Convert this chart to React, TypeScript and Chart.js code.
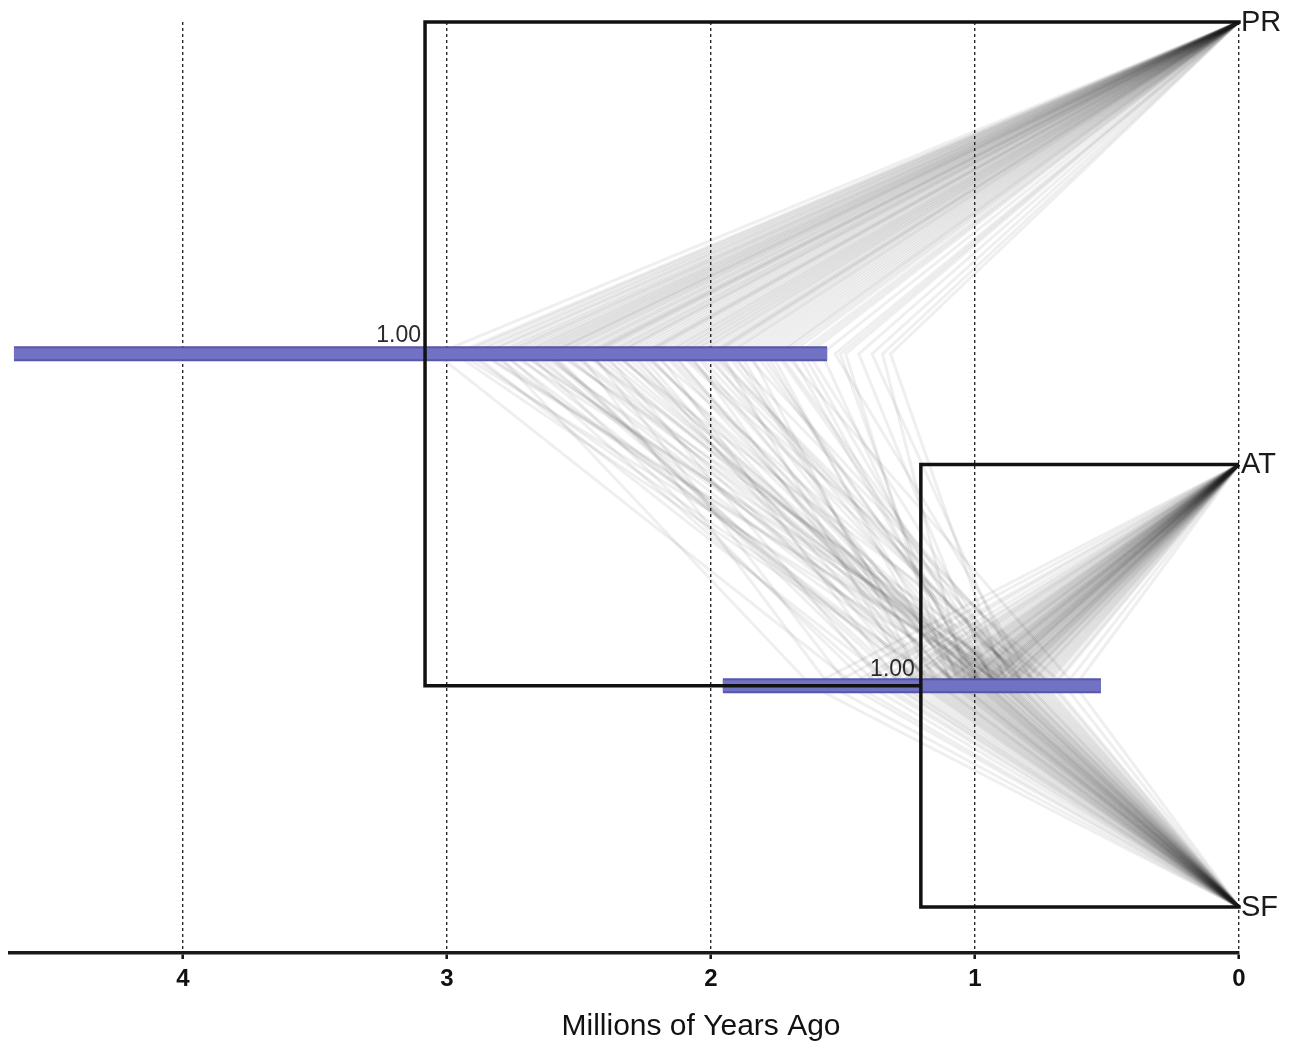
import React, { useEffect, useRef } from "react";
import { Chart, registerables } from "chart.js";

Chart.register(...registerables);

// ---- data ----
const taxa = ["PR", "AT", "SF"];
const taxonY = [2, 1, 0];
const xTicks = [0, 1, 2, 3, 4];
const axisMaxAge = 4.655;

const rootAge = 3.083;
const rootY = 1.25;
const cladeAge = 1.205;
const cladeY = 0.5;

const rootHPD = [4.64, 1.56];
const cladeHPD = [1.955, 0.523];
const rootSupport = "1.00";
const cladeSupport = "1.00";

// posterior sample of node ages (root, AT+SF clade), read from the tree cloud
const sampledRootAges = [
  3.04, 2.97, 2.95, 2.9, 2.86, 2.83, 2.81, 2.76, 2.74, 2.71, 2.69, 2.65, 2.63, 2.61, 2.58,
  2.55, 2.53, 2.5, 2.47, 2.46, 2.42, 2.4, 2.37, 2.35, 2.31, 2.29, 2.26, 2.22, 2.2, 2.17,
  2.14, 2.11, 2.08, 2.05, 2.01, 1.98, 1.94, 1.91, 1.87, 1.83, 1.79, 1.75, 1.72, 1.67, 1.63,
  1.58, 1.53, 1.49, 1.44, 1.39, 1.35, 1.32, 2.66, 2.44, 2.24, 2.03, 1.89, 2.78, 2.52, 1.7,
  2.92, 2.57, 2.33, 2.12, 1.96, 1.81, 2.68, 2.48, 2.27, 2.09, 1.93, 1.77, 2.87, 2.6, 2.39,
  2.18, 2.0, 1.85, 1.65, 1.51, 2.72, 2.45, 2.15, 1.99, 2.79, 2.36, 2.06, 1.74, 2.62, 2.25,
];
const sampledCladeAges = [
  1.45, 1.12, 0.95, 1.3, 0.88, 1.05, 1.62, 0.79, 1.18, 0.92, 1.4, 0.85, 1.01, 1.25, 0.74,
  1.1, 0.97, 1.55, 0.83, 1.15, 0.9, 1.34, 0.7, 1.06, 0.99, 1.21, 0.87, 0.78, 1.28, 0.94,
  1.08, 0.66, 1.17, 0.89, 1.02, 0.81, 0.96, 1.13, 0.73, 0.91, 1.04, 0.86, 0.62, 0.98, 0.84,
  1.0, 0.77, 1.09, 0.93, 0.82, 1.03, 0.88, 1.2, 0.95, 1.07, 0.8, 1.14, 1.36, 0.9, 0.97,
  1.11, 0.87, 1.0, 0.76, 1.23, 0.93, 1.05, 0.84, 1.16, 0.98, 0.71, 1.08, 0.89, 1.31, 0.95,
  1.02, 0.8, 1.19, 0.92, 1.06, 0.86, 1.48, 0.99, 0.75, 1.13, 0.9, 1.04, 0.83, 1.27, 0.96,
];

const axisTitle = "Millions of Years Ago";

const FONT = "'Liberation Sans', Arial, Helvetica, sans-serif";

export default function App() {
  const ref = useRef<HTMLCanvasElement | null>(null);

  useEffect(() => {
    document.body.style.margin = "0";
    const canvas = ref.current;
    if (!canvas) return;

    const cloud = sampledRootAges.map((r, i) => {
      const n = sampledCladeAges[i];
      return {
        data: [
          { x: 0, y: taxonY[0] },
          { x: r, y: rootY },
          { x: n, y: cladeY },
          { x: 0, y: taxonY[1] },
          { x: n, y: cladeY },
          { x: 0, y: taxonY[2] },
        ],
        showLine: true,
        borderColor: "rgba(30,30,30,0.07)",
        borderWidth: 3,
        pointRadius: 0,
        tension: 0,
        clip: false as any,
        order: 3,
      };
    });

    const hpdBars = [
      { range: rootHPD, y: rootY },
      { range: cladeHPD, y: cladeY },
    ].flatMap((b) => [
      {
        data: [
          { x: b.range[0], y: b.y },
          { x: b.range[1], y: b.y },
        ],
        showLine: true,
        borderColor: "rgba(78,78,165,0.95)",
        borderWidth: 15,
        borderCapStyle: "butt" as const,
        pointRadius: 0,
        clip: false as any,
        order: 2,
      },
      {
        data: [
          { x: b.range[0], y: b.y },
          { x: b.range[1], y: b.y },
        ],
        showLine: true,
        borderColor: "rgba(114,114,196,1)",
        borderWidth: 11,
        borderCapStyle: "butt" as const,
        pointRadius: 0,
        clip: false as any,
        order: 1,
      },
    ]);

    const consensus = {
      data: [
        { x: 0, y: taxonY[0] },
        { x: rootAge, y: taxonY[0] },
        { x: rootAge, y: cladeY },
        { x: cladeAge, y: cladeY },
        { x: cladeAge, y: taxonY[1] },
        { x: 0, y: taxonY[1] },
        { x: cladeAge, y: taxonY[1] },
        { x: cladeAge, y: taxonY[2] },
        { x: 0, y: taxonY[2] },
      ],
      showLine: true,
      borderColor: "#111",
      borderWidth: 3.5,
      borderJoinStyle: "miter" as const,
      borderCapStyle: "square" as const,
      pointRadius: 0,
      tension: 0,
      clip: false as any,
      order: 0,
    };

    const textPlugin = {
      id: "treeText",
      afterDatasetsDraw(chart: any) {
        const { ctx, scales } = chart;
        const xs = scales.x;
        const ys = scales.y;
        ctx.save();
        ctx.fillStyle = "#2a2a2a";
        ctx.font = `23px ${FONT}`;
        ctx.textAlign = "right";
        ctx.textBaseline = "alphabetic";
        ctx.fillText(rootSupport, xs.getPixelForValue(rootAge) - 4, ys.getPixelForValue(rootY) - 12);
        ctx.fillText(cladeSupport, xs.getPixelForValue(cladeAge) - 6, ys.getPixelForValue(cladeY) - 10);
        ctx.fillStyle = "#1a1a1a";
        ctx.font = `29px ${FONT}`;
        ctx.textAlign = "left";
        ctx.textBaseline = "middle";
        taxa.forEach((t, i) => {
          ctx.fillText(t, xs.getPixelForValue(0) + 2, ys.getPixelForValue(taxonY[i]) + 1);
        });
        ctx.restore();
      },
      afterDraw(chart: any) {
        const { ctx } = chart;
        ctx.save();
        ctx.fillStyle = "#111";
        ctx.font = `30px ${FONT}`;
        ctx.textAlign = "center";
        ctx.textBaseline = "alphabetic";
        ctx.fillText(axisTitle, 701, 1035);
        ctx.restore();
      },
    };

    const chart = new Chart(canvas, {
      type: "scatter",
      data: { datasets: [consensus, ...hpdBars, ...cloud] as any },
      options: {
        animation: false,
        responsive: false,
        devicePixelRatio: 1,
        events: [],
        layout: { padding: { left: 10, right: 54, top: 22, bottom: 0 } },
        plugins: { legend: { display: false }, tooltip: { enabled: false } },
        scales: {
          x: {
            type: "linear",
            reverse: true,
            min: 0,
            max: axisMaxAge,
            afterFit: (s: any) => {
              s.height = 89;
            },
            afterBuildTicks: (s: any) => {
              s.ticks = xTicks.map((v) => ({ value: v }));
            },
            ticks: {
              includeBounds: false,
              stepSize: 1,
              color: "#111",
              font: { family: FONT, size: 24, weight: "bold" },
              padding: 6,
              maxRotation: 0,
              autoSkip: false,
            },
            grid: {
              display: true,
              color: "#2a2a2a",
              lineWidth: 1.4,
              drawTicks: true,
              tickLength: 6,
              tickColor: "#111",
              tickWidth: 2.5,
            },
            border: { display: true, color: "#1a1a1a", width: 3.5, dash: [3, 3] },
          },
          y: {
            type: "linear",
            display: false,
            min: -0.104,
            max: 2,
          },
        },
      },
      plugins: [textPlugin],
    });

    return () => chart.destroy();
  }, []);

  return (
    <div style={{ width: 1293, height: 1042, background: "#fff" }}>
      <canvas ref={ref} width={1293} height={1042} style={{ display: "block" }} />
    </div>
  );
}
